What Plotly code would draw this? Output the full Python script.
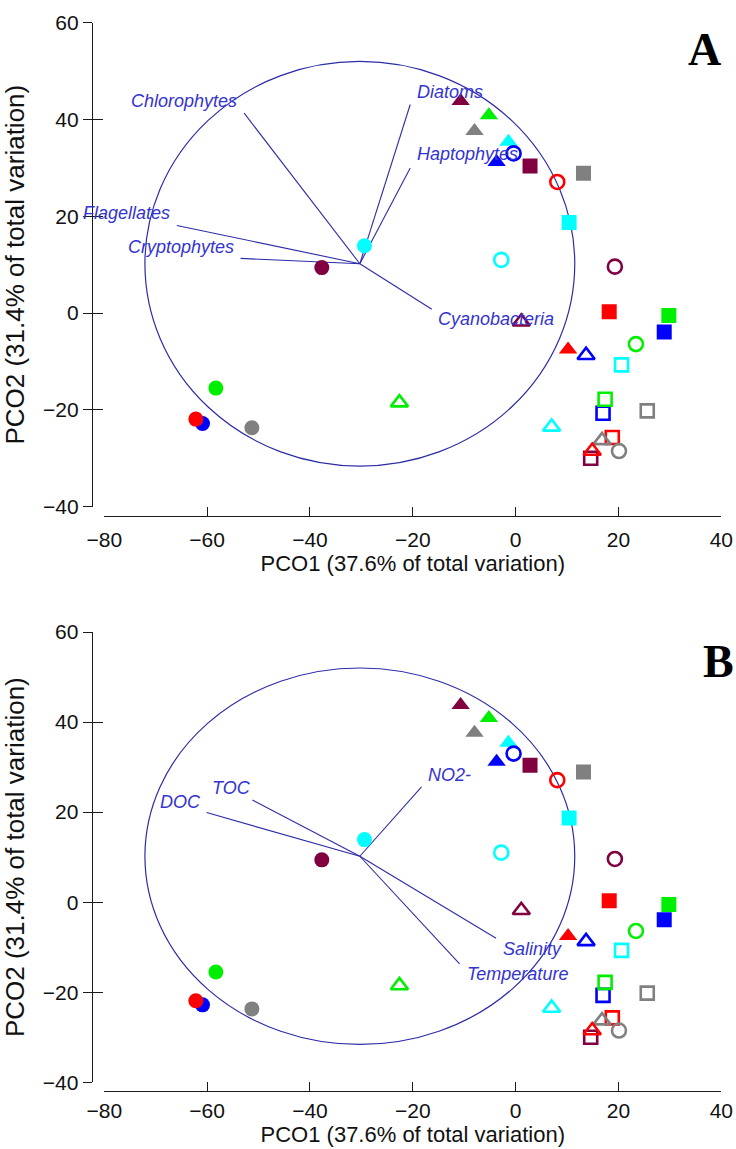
import plotly.graph_objects as go

# ---------------- data ----------------
group_colors = ["#800040", "#ff0000", "#00ee00", "#00ffff", "#0000ff", "#808080"]  # maroon, red, green, cyan, blue, gray

filled_circle_x = [-37.7, -62.2, -58.3, -29.4, -60.9, -51.3]
filled_circle_y = [9.4, -21.9, -15.5, 13.9, -22.8, -23.7]
open_circle_x = [19.3, 8.1, 23.4, -2.8, -0.4, 20.1]
open_circle_y = [9.6, 27.1, -6.4, 11.0, 33.0, -28.5]
filled_tri_x = [-10.7, 10.2, -5.2, -1.4, -3.7, -8.0]
filled_tri_y = [43.8, -7.5, 40.9, 35.4, 31.2, 37.6]
open_tri_x = [1.1, 14.9, -22.6, 7.0, 13.7, 16.8]
open_tri_y = [-1.8, -28.5, -18.5, -23.5, -8.7, -26.3]
filled_sq_x = [2.8, 18.2, 29.8, 10.4, 28.9, 13.2]
filled_sq_y = [30.4, 0.3, -0.5, 18.7, -3.9, 28.9]
open_sq_x = [14.6, 18.8, 17.4, 20.6, 17.0, 25.6]
open_sq_y = [-30.0, -25.7, -17.8, -10.7, -20.7, -20.2]

# vector overlay (origin and endpoints)
vec_origin = (-30.3, 10.2)
circle_radius = 41.8

vec_a_names = ["Chlorophytes", "Flagellates", "Cryptophytes", "Diatoms", "Haptophytes", "Cyanobacteria"]
vec_a_x = [-52.8, -65.9, -53.5, -20.5, -20.5, -16.3]
vec_a_y = [41.3, 18.1, 11.3, 43.1, 30.0, 0.8]

vec_b_names = ["TOC", "DOC", "NO2-", "Salinity", "Temperature"]
vec_b_x = [-51.2, -60.1, -18.3, -3.8, -10.9]
vec_b_y = [22.7, 19.9, 25.6, -8.0, -13.7]

x_ticks = [-80, -60, -40, -20, 0, 20, 40]
y_ticks = [-40, -20, 0, 20, 40, 60]
x_title = "PCO1 (37.6% of total variation)"
y_title = "PCO2 (31.4% of total variation)"

# ---------------- styling / layout helpers ----------------
W, H = 736, 1149
FONT = "Liberation Sans, Arial, sans-serif"
VEC_LINE = "#2c2ca8"
VEC_TEXT = "#3434d0"


def fx(px):
    return px / W


def fy(py):
    return 1 - py / H


# label placement (offset in data units from endpoint, anchor)
label_place_a = {
    "Chlorophytes": (-1.0, 2.5, "right"),
    "Flagellates": (-1.0, 2.6, "right"),
    "Cryptophytes": (-0.9, 2.4, "right"),
    "Diatoms": (0.9, 2.6, "left"),
    "Haptophytes": (0.9, 2.9, "left"),
    "Cyanobacteria": (0.8, -2.1, "left"),
}
label_place_b = {
    "TOC": (-8.2, 2.6, "left"),
    "DOC": (-0.7, 2.4, "right"),
    "NO2-": (0.9, 2.6, "left"),
    "Salinity": (0.9, -2.4, "left"),
    "Temperature": (1.0, -2.3, "left"),
}

fig = go.Figure()

draw_order = [5, 4, 3, 2, 1, 0]  # later groups drawn first so red sits above blue, etc.


def add_points(xa, ya):
    groups = [
        (filled_sq_x, filled_sq_y, "square", 15, False),
        (open_sq_x, open_sq_y, "square-open", 13, True),
        (filled_tri_x, filled_tri_y, "triangle-up", 16, False),
        (open_tri_x, open_tri_y, "triangle-up-open", 15, True),
        (filled_circle_x, filled_circle_y, "circle", 15, False),
        (open_circle_x, open_circle_y, "circle-open", 14, True),
    ]
    for gx, gy, sym, size, is_open in groups:
        xs = [gx[i] for i in draw_order]
        ys = [gy[i] for i in draw_order]
        cs = [group_colors[i] for i in draw_order]
        fig.add_trace(go.Scatter(
            x=xs, y=ys, mode="markers", xaxis=xa, yaxis=ya,
            marker=dict(symbol=sym, size=size, color=cs,
                        line=dict(width=2.6 if is_open else 0, color=cs)),
            hoverinfo="skip", showlegend=False,
        ))


def add_vectors(xa, ya, names, vx, vy, place, xref, yref):
    lx, ly = [], []
    for ex, ey in zip(vx, vy):
        lx += [vec_origin[0], ex, None]
        ly += [vec_origin[1], ey, None]
    fig.add_trace(go.Scatter(x=lx, y=ly, mode="lines", xaxis=xa, yaxis=ya,
                             line=dict(color=VEC_LINE, width=1.1),
                             hoverinfo="skip", showlegend=False))
    for n, ex, ey in zip(names, vx, vy):
        dx, dy, anc = place[n]
        fig.add_annotation(x=ex + dx, y=ey + dy, xref=xref, yref=yref, text="<i>" + n + "</i>",
                           showarrow=False, xanchor=anc, yanchor="middle",
                           font=dict(family=FONT, size=18, color=VEC_TEXT))
    fig.add_shape(type="circle", xref=xref, yref=yref,
                  x0=vec_origin[0] - circle_radius, x1=vec_origin[0] + circle_radius,
                  y0=vec_origin[1] - circle_radius, y1=vec_origin[1] + circle_radius,
                  line=dict(color=VEC_LINE, width=1.2), layer="below")


# panel A
add_vectors("x", "y", vec_a_names, vec_a_x, vec_a_y, label_place_a, "x", "y")
add_points("x", "y")
# panel B
add_vectors("x2", "y2", vec_b_names, vec_b_x, vec_b_y, label_place_b, "x2", "y2")
add_points("x2", "y2")
# dummy traces for inner-tick overlay axes
fig.add_trace(go.Scatter(x=[None], y=[None], xaxis="x", yaxis="y3", showlegend=False, hoverinfo="skip"))
fig.add_trace(go.Scatter(x=[None], y=[None], xaxis="x2", yaxis="y4", showlegend=False, hoverinfo="skip"))

xdom = [fx(104.3), fx(721.3)]
yA = [fy(506.7), fy(22.7)]
yB = [fy(1082.3), fy(632.0)]

axis_common = dict(showgrid=False, zeroline=False, showline=True, linecolor="#1a1a1a",
                   linewidth=1.3, tickcolor="#1a1a1a", tickwidth=1.3,
                   tickfont=dict(family=FONT, size=21, color="#111"))


def xaxis_cfg(pos, lab_off, title_off):
    return dict(domain=xdom, range=[-80, 40], anchor="free", position=pos,
                tickmode="array", tickvals=x_ticks, ticks="inside", ticklen=9,
                ticklabelstandoff=lab_off,
                title=dict(text=x_title, font=dict(family=FONT, size=22, color="#111"), standoff=title_off),
                **axis_common)


def yaxis_cfg(dom, pos):
    return dict(domain=dom, range=[-40, 60], anchor="free", position=pos,
                tickmode="array", tickvals=y_ticks, ticks="outside", ticklen=9,
                title=dict(text=y_title, font=dict(family=FONT, size=26, color="#111"), standoff=9),
                **axis_common)


def yinner_cfg(over, pos):
    return dict(overlaying=over, range=[-40, 60], anchor="free", position=pos,
                tickmode="array", tickvals=y_ticks, ticks="inside", ticklen=10,
                tickcolor="#1a1a1a", tickwidth=1.3, showticklabels=False,
                showline=False, showgrid=False, zeroline=False)


fig.update_layout(
    width=W, height=H,
    margin=dict(l=0, r=0, t=0, b=0, autoexpand=False),
    paper_bgcolor="white", plot_bgcolor="white",
    showlegend=False,
    xaxis=xaxis_cfg(fy(516.3), 4, 2),
    yaxis=yaxis_cfg(yA, fx(92.0)),
    xaxis2=xaxis_cfg(fy(1091.0), 1, 0),
    yaxis2=yaxis_cfg(yB, fx(91.7)),
    yaxis3=yinner_cfg("y", fx(92.0)),
    yaxis4=yinner_cfg("y2", fx(91.7)),
)
for k in ["xaxis", "yaxis", "xaxis2", "yaxis2"]:
    fig.layout[k].automargin = False

# panel letters
fig.add_annotation(x=fx(704), y=fy(49.5), xref="paper", yref="paper", text="<b>A</b>",
                   showarrow=False, xanchor="center", yanchor="middle",
                   font=dict(family="Liberation Serif, Times New Roman, serif", size=46, color="black"))
fig.add_annotation(x=fx(718.7), y=fy(661.7), xref="paper", yref="paper", text="<b>B</b>",
                   showarrow=False, xanchor="center", yanchor="middle",
                   font=dict(family="Liberation Serif, Times New Roman, serif", size=46, color="black"))

fig.write_html("out.html")
